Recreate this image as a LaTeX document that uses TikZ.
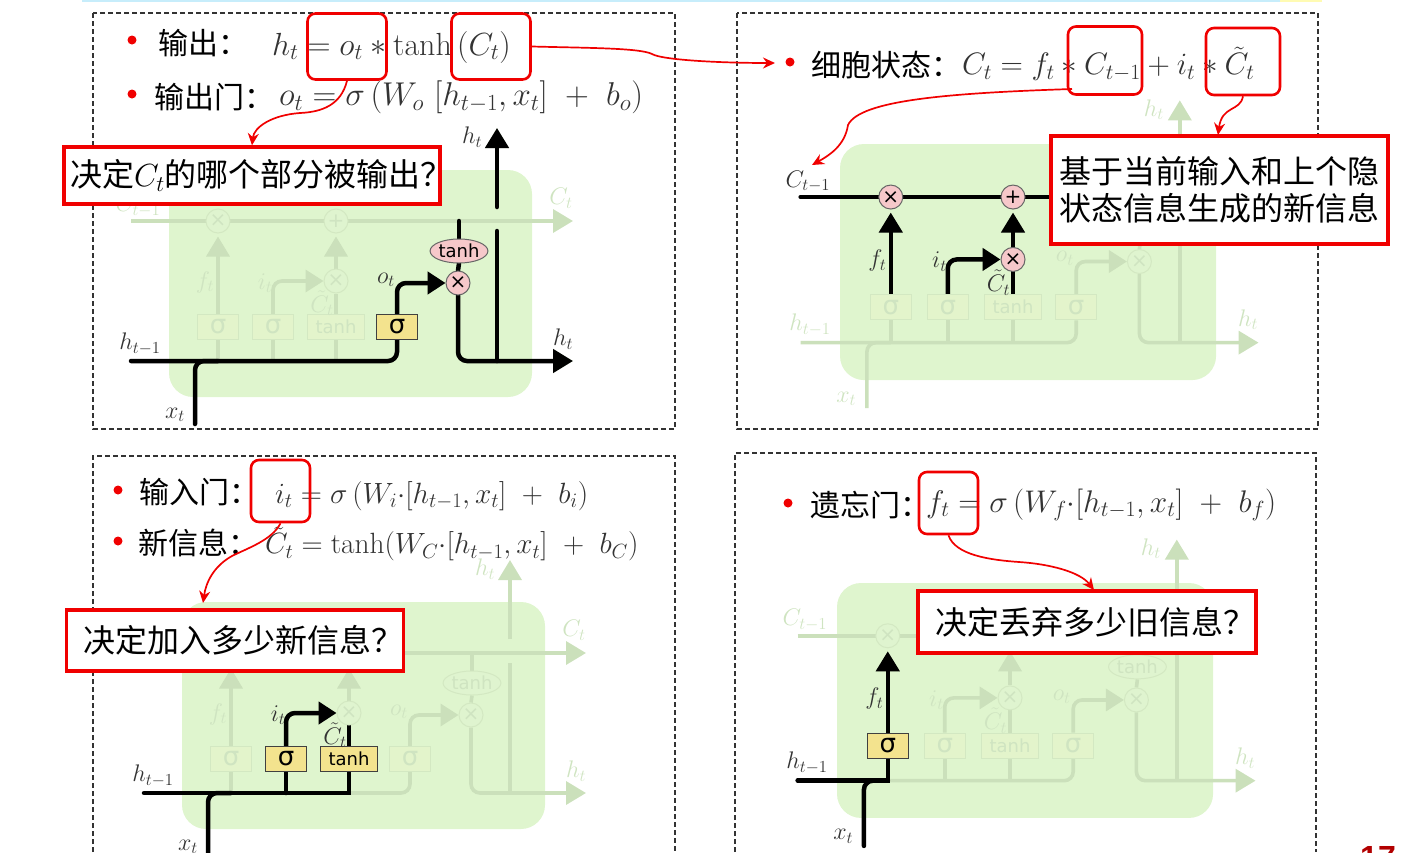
\RequirePackage{fix-cm}
\documentclass[tikz,border=0pt]{standalone}
\usepackage{fontspec}
\usetikzlibrary{arrows.meta,shapes.geometric,backgrounds}
\newfontfamily\cjk{Noto Sans CJK SC}
\newfontfamily\dejav{DejaVu Sans}
\newfontfamily\libsans{Liberation Sans}
\definecolor{gbox}{HTML}{DFF5CE}
\definecolor{fl}{HTML}{CBE0BB}
\definecolor{fbd}{HTML}{D3E8C2}
\definecolor{ffill}{HTML}{E3F4CB}
\definecolor{fcirc}{HTML}{DFF4CF}
\definecolor{ftxt}{HTML}{CFE4C1}
\definecolor{yel}{HTML}{F3E38E}
\definecolor{pnk}{HTML}{F6C8CA}
\definecolor{redc}{HTML}{F00000}
\definecolor{fml}{HTML}{333333}
\newcommand\fsz[1]{\fontsize{#1}{#1}\selectfont}
\newcommand\tCo{$C_{t-1}$}
\newcommand\tCt{$C_t$}
\newcommand\ttan{tanh}
\newcommand\tpl{+}
\newcommand\tfm{×}
\tikzset{
  x=1pt,y=-1pt,
  tipB/.style={-{Triangle[length=20pt,width=23pt]}},
  tipM/.style={-{Triangle[length=18pt,width=22pt]}},
  lnoff/.style={draw=fl,line width=3.6pt},
  lnon/.style={draw=black,line width=4.5pt,line cap=round},
  crn/.style={rounded corners=9pt},
  loff/.style={text=ftxt},
  lon/.style={text=fml},
  lab/.style={inner sep=0pt,font=\fsz{24}},
  boxoff/.style={draw=fbd,fill=ffill,text=ftxt,line width=1pt},
  boxon/.style={draw=black!75,fill=yel,text=black,line width=1pt},
  ciroff/.style={draw=fbd,fill=fcirc,text=ftxt,line width=1pt},
  ciron/.style={draw=black!60,fill=pnk,text=black,line width=1pt},
  sbox/.style={rectangle,minimum width=41pt,minimum height=25pt,inner sep=0pt,font=\dejav\fsz{26}},
  tbox/.style={rectangle,minimum width=57pt,minimum height=25pt,inner sep=0pt,font=\dejav\fsz{18}},
  mcir/.style={circle,minimum size=24pt,inner sep=0pt,font=\dejav\fsz{20}},
  tell/.style={ellipse,minimum width=56pt,minimum height=24pt,inner sep=0pt,font=\dejav\fsz{18}},
  lh1/.style=loff,lx/.style=loff,lhr/.style=loff,lht/.style=loff,lo/.style=loff,
  lf/.style=loff,li/.style=loff,lcc/.style=loff,lct/.style=loff,lc1/.style=loff,
  nfm/.style=ciroff,npm/.style=ciroff,nim/.style=ciroff,nom/.style=ciroff,
  nsf/.style=boxoff,nsi/.style=boxoff,ntb/.style=boxoff,nso/.style=boxoff,nte/.style=ciroff,
  frame/.style={draw=black!80,line width=1.1pt,dash pattern=on 5pt off 3pt},
  hl/.style={draw=redc,line width=2.6pt,rounded corners=8pt,inner sep=0pt},
  call/.style={rectangle,draw=redc,fill=white,line width=3.4pt,inner sep=0pt,text=black,font=\cjk\fsz{32}},
  rarr/.style={draw=redc,line width=1.7pt,-{Stealth[length=12pt,width=11pt]}},
  bul/.style={circle,fill=redc,minimum size=9pt,inner sep=0pt},
  hd/.style={inner sep=0pt,anchor=west,text=black,font=\cjk\fsz{30}},
  fm/.style={inner sep=0pt,anchor=west,text=fml},
}
\newcommand\lstm[7]{%
\begin{scope}[shift={(#2,#3)},x=#4pt,y=-#5pt,#6]
  \coordinate (#1hs) at (-38,191);
  \coordinate (#1he) at (404,191);
  \coordinate (#1cs) at (-38,51);
  \coordinate (#1ce) at (404,51);
  \coordinate (#1xs) at (26,254);
  \coordinate (#1uo) at (328,-42);
  \coordinate (#1fj) at (49,191);
  \coordinate (#1ij) at (104,191);
  \coordinate (#1tj) at (167,191);
  \coordinate (#1hj) at (328,191);
  \coordinate (#1gl) at (328,61);
  \coordinate (#1gu) at (328,37);
  \node[mcir,nfm] (#1fm) at (49,51) {\tfm};
  \node[mcir,npm] (#1pm) at (167,51) {\tpl};
  \node[mcir,nim] (#1im) at (167,111) {×};
  \node[mcir,nom] (#1om) at (289,113) {×};
  \node[sbox,nsf] (#1sf) at (49,157) {σ};
  \node[sbox,nsi] (#1si) at (104,157) {σ};
  \node[tbox,ntb] (#1tb) at (167,157) {tanh};
  \node[sbox,nso] (#1so) at (228,157) {σ};
  \node[tell,nte] (#1te) at (290,81) {\ttan};
  \node[lab,lh1] (#1lh1) at (-29,174) {$h_{t-1}$};
  \node[lab,lx] (#1lx) at (6,245) {$x_t$};
  \node[lab,lhr] (#1lhr) at (394,169) {$h_t$};
  \node[lab,lht] (#1lht) at (303,-33) {$h_t$};
  \node[lab,lo] (#1lo) at (217,110) {$o_t$};
  \node[lab,lf] (#1lf) at (36,112) {$f_t$};
  \node[lab,li] (#1li) at (96,113) {$i_t$};
  \node[lab,lcc] (#1lcc) at (153,133) {$\tilde{C}_t$};
  \node[lab,lct] (#1lct) at (392,28) {\tCt};
  \node[lab,lc1] (#1lc1) at (-31,36) {\tCo};
  \begin{scope}[on background layer]
    \fill[gbox,rounded corners=24pt] (0,0) rectangle (363,227);
    \draw[lnoff,tipB] (#1cs) -- (#1ce);
    \draw[lnoff,crn] (#1hs) -| (#1so.south);
    \draw[lnoff,crn,tipM] (#1so.north) |- (#1om.west);
    \draw[lnoff,crn,tipB] (#1om.south) |- (#1he);
    \draw[lnoff] (#1te.north) -- (#1te.north|-#1cs);
    \draw[lnoff] (#1te.south) -- (#1om.north);
    \draw[lnoff] (#1hj) -- (#1gl);
    \draw[lnoff,tipB] (#1gu) -- (#1uo);
    \draw[lnoff] (#1fj) -- (#1sf.south);
    \draw[lnoff,tipB,shorten >=3pt] (#1sf.north) -- (#1fm.south);
    \draw[lnoff] (#1ij) -- (#1si.south);
    \draw[lnoff,crn,tipM] (#1si.north) |- (#1im.west);
    \draw[lnoff] (#1tj) -- (#1tb.south);
    \draw[lnoff] (#1tb.north) -- (#1im.south);
    \draw[lnoff,tipB,shorten >=3pt] (#1im.north) -- (#1pm.south);
    \draw[lnoff,crn] (#1xs) |- (#1fj);
    #7
  \end{scope}
\end{scope}}
\begin{document}
\begin{tikzpicture}
\useasboundingbox (0,0) rectangle (1409,852);
% top strip
\fill[fill=cyan!22] (82,0) rectangle (1280,1.5);
\fill[fill=yellow!30] (1280,0) rectangle (1322,1.5);
% frames
\draw[frame] (93,13) rectangle (675,429);
\draw[frame] (737,13) rectangle (1318,429);
\draw[frame] (93,852) -- (93,456) -- (675,456) -- (675,852);
\draw[frame] (735,852) -- (735,453) -- (1316,453) -- (1316,852);

% panel 1
\lstm{a}{169}{170}{1}{1}{lh1/.style=lon,lx/.style=lon,lhr/.style=lon,lht/.style=lon,lo/.style=lon,
  nso/.style=boxon,nom/.style=ciron,nte/.style=ciron}{
  \draw[lnon,crn] (ahs) -| (aso.south);
  \draw[lnon,crn,tipM] (aso.north) |- (aom.west);
  \draw[lnon,crn,tipB] (aom.south) |- (ahe);
  \draw[lnon] (ate.north) -- (ate.north|-acs);
  \draw[lnon] (ate.south) -- (aom.north);
  \draw[lnon] (ahj) -- (agl);
  \draw[lnon,tipB] (agu) -- (auo);
  \draw[lnon,crn] (axs) |- (afj);
}
% panel 2
\lstm{b}{840}{144}{1.036}{1.04}{/utils/exec={\def\tCt{}\def\ttan{}},lf/.style=lon,li/.style=lon,lcc/.style=lon,lc1/.style=lon,
  nfm/.style=ciron,npm/.style=ciron,nim/.style=ciron}{
  \draw[lnon] (bcs) -- (bce);
  \draw[lnon,tipB,shorten >=3pt] (bsf.north) -- (bfm.south);
  \draw[lnon,crn,tipM] (bsi.north) |- (bim.west);
  \draw[lnon] (btb.north) -- (bim.south);
  \draw[lnon,tipB,shorten >=3pt] (bim.north) -- (bpm.south);
}
% panel 3
\lstm{c}{182}{602}{1}{1}{/utils/exec={\def\tCo{}\def\tfm{}\def\tpl{}},lh1/.style=lon,lx/.style=lon,li/.style=lon,lcc/.style=lon,
  nsi/.style=boxon,ntb/.style=boxon}{
  \draw[lnon] (chs) -- (ctj) -- (ctb.south);
  \draw[lnon,crn] (cxs) |- (cfj);
  \draw[lnon] (cij) -- (csi.south);
  \draw[lnon,crn,tipM] (csi.north) |- (cim.west);
  \draw[lnon] (ctb.north) -- (cim.south);
}
% panel 4
\lstm{d}{837}{583}{1.036}{1.035}{/utils/exec={\def\tCt{}\def\tpl{}},lh1/.style=lon,lx/.style=lon,lf/.style=lon,nsf/.style=boxon}{
  \draw[lnon] (dhs) -- (dfj) -- (dsf.south);
  \draw[lnon,tipB,shorten >=3pt] (dsf.north) -- (dfm.south);
  \draw[lnon,crn] (dxs) |- (dfj);
}

% text panel 1
\node[bul] (b1) at (132,40) {};
\node[bul] (b2) at (132,94) {};
\node[hd] (t1) at (158,43) {输出：};
\node[fm,font=\fsz{32}] (f1) at (272,47) {$h_t=o_t*\tanh\left(C_t\right)$};
\node[hd] (t2) at (154,97) {输出门：};
\node[fm,font=\fsz{33}] (f2) at (279,97) {$o_t=\sigma\left(W_o\ [h_{t-1},x_t]\ +\ b_o\right)$};
% text panel 2
\node[bul] (b3) at (790,62) {};
\node[hd] (t3) at (811,65) {细胞状态：};
\node[fm,font=\fsz{31}] (f3) at (962,64) {$C_t=f_t*C_{t-1}+i_t*\tilde{C}_t$};
% text panel 3
\node[bul] (b4) at (118,490) {};
\node[bul] (b5) at (118,541) {};
\node[hd] (t4) at (139,492) {输入门：};
\node[fm,font=\fsz{29.3}] (f4) at (275,496) {$i_t=\sigma\left(W_i{\cdot}[h_{t-1},x_t]\ +\ b_i\right)$};
\node[hd] (t5) at (138,543) {新信息：};
\node[fm,font=\fsz{29.3}] (f5) at (265,544) {$\tilde{C}_t=\tanh(W_C{\cdot}[h_{t-1},x_t]\ +\ b_C)$};
% text panel 4
\node[bul] (b6) at (788,503) {};
\node[hd] (t6) at (810,505) {遗忘门：};
\node[fm,font=\fsz{31.3}] (f6) at (926,505) {$f_t=\sigma\left(W_f{\cdot}[h_{t-1},x_t]\ +\ b_f\right)$};

% highlight boxes
\node[hl,minimum width=79pt,minimum height=66pt] (r1) at (347,46.5) {};
\node[hl,minimum width=79pt,minimum height=66pt] (r2) at (491,46.5) {};
\node[hl,minimum width=74pt,minimum height=68pt] (r3) at (1105,60.5) {};
\node[hl,minimum width=74pt,minimum height=67pt] (r4) at (1243,61.5) {};
\node[hl,minimum width=59pt,minimum height=62pt] (r5) at (280.5,491) {};
\node[hl,minimum width=59pt,minimum height=62pt] (r6) at (948.5,503) {};

% callouts
\node[call,minimum width=376pt,minimum height=57pt] (c1) at (252,175.5) {\makebox[370pt][l]{\hspace*{3pt}决定$C_t$的哪个部分被输出？}};
\node[call,font=\cjk\fontsize{32}{37}\selectfont,align=left,minimum width=337pt,minimum height=108pt] (c2) at (1219.5,190) {基于当前输入和上个隐\\状态信息生成的新信息};
\node[call,minimum width=336pt,minimum height=61pt] (c3) at (235,640.5) {\hspace*{17pt}决定加入多少新信息？};
\node[call,minimum width=338pt,minimum height=62pt] (c4) at (1087,622) {\hspace*{17pt}决定丢弃多少旧信息？};

% red connectors
\coordinate (e2) at (775,63);
\coordinate (e3) at (812,165);
\coordinate (e4) at (1218,135);
\coordinate (e5) at (203,603);
\coordinate (e6) at (1094,590);
\coordinate (s3) at (1072,89);
\draw[rarr] (r1.south) .. controls (341,105) and (322,112) .. (300,113) .. controls (272,115) and (254,127) .. (c1.north);
\draw[rarr] (r2.east) .. controls (590,48) and (640,48) .. (652,54) .. controls (662,60) and (720,63) .. (e2);
\draw[rarr] (s3) .. controls (950,93) and (860,100) .. (848,125) .. controls (845,145) and (830,155) .. (e3);
\draw[rarr] (r4.south) .. controls (1240,112) and (1222,105) .. (e4);
\draw[rarr] (r5.south) .. controls (272,540) and (248,548) .. (232,556) .. controls (214,566) and (206,582) .. (e5);
\draw[rarr] (r6.south) .. controls (955,555) and (990,560) .. (1019,562) .. controls (1050,564) and (1080,572) .. (e6);

% page number
\node[inner sep=0pt,anchor=base,text=red!70!black,font=\libsans\bfseries\fsz{32}] (pg) at (1378,868) {17};
\end{tikzpicture}
\end{document}
